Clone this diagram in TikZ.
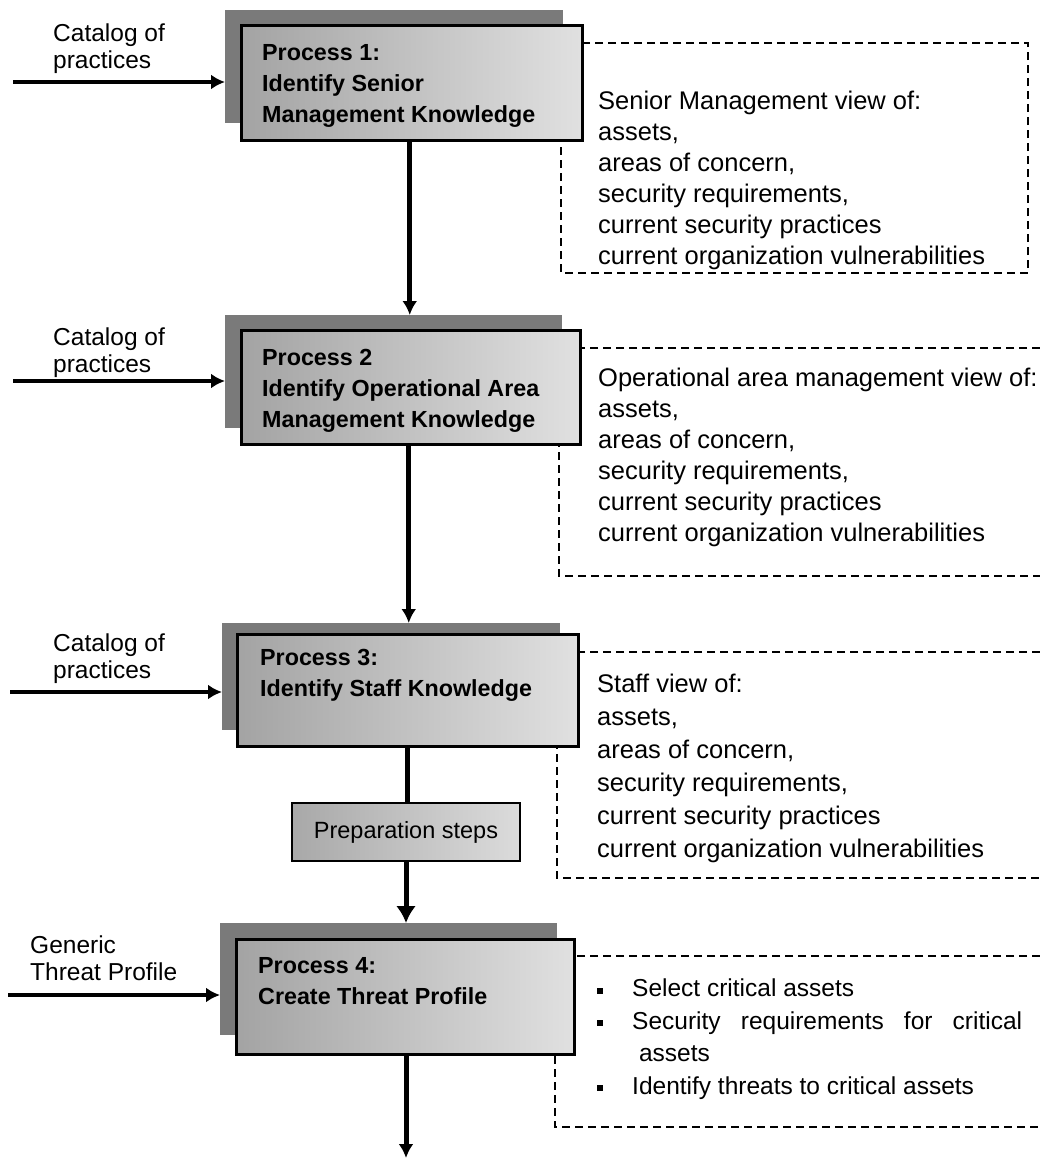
\documentclass[tikz,border=0pt]{standalone}
\usepackage{fontspec}
\setmainfont{Liberation Sans}
\usetikzlibrary{arrows.meta}
% small square bullet for the threat-profile list
\newcommand\sqb{\raisebox{3.4pt}{\rule{6pt}{6pt}}}
\begin{document}
\begin{tikzpicture}[x=1pt,y=-1pt,
  shadowbox/.style={fill=black!52, draw=none, inner sep=0pt, anchor=north west},
  procbox/.style={draw=black, line width=2.5pt, left color=black!36, right color=black!12,
    inner sep=0pt, anchor=north west},
  prepbox/.style={draw=black, line width=2pt, left color=black!34, right color=black!14,
    inner sep=0pt, font=\fontsize{23.5}{28}\selectfont},
  ptext/.style={anchor=north west, inner sep=0pt, align=left,
    font=\fontsize{23.3}{31}\selectfont\bfseries},
  body/.style={anchor=north west, inner sep=0pt, align=left,
    font=\fontsize{25.5}{31}\selectfont},
  inlabel/.style={anchor=north west, inner sep=0pt, align=left,
    font=\fontsize{24.5}{26.5}\selectfont},
  flow/.style={line width=5pt, -{Latex[length=14pt,width=15pt]}},
  bigflow/.style={line width=5pt, -{Latex[length=17pt,width=20pt]}},
  plain/.style={line width=5pt},
  feed/.style={line width=4.5pt, -{Latex[length=14pt,width=15pt]}},
  dashbox/.style={line width=2pt, dash pattern=on 8pt off 5pt}
]
\useasboundingbox (0,0) rectangle (1040,1160);

% ---------- dashed output frames (drawn first, boxes cover their corners)
\draw[dashbox] (561,43) rectangle (1028,273);
\draw[dashbox] (1040,348) -- (559,348) -- (559,576) -- (1040,576);
\draw[dashbox] (1040,652) -- (557,652) -- (557,878) -- (1040,878);
\draw[dashbox] (1040,956) -- (555,956) -- (555,1127) -- (1040,1127);

% ---------- process 1
\node[shadowbox, minimum width=338pt, minimum height=113pt] (s1) at (225,10) {};
\node[procbox, minimum width=341pt, minimum height=115pt] (p1) at (240,24) {};
\node[ptext] (t1) at (262,44) {Process 1:\\Identify Senior\\Management Knowledge};

% ---------- process 2
\node[shadowbox, minimum width=337pt, minimum height=113pt] (s2) at (225,315) {};
\node[procbox, minimum width=339pt, minimum height=114pt] (p2) at (240,329) {};
\node[ptext] (t2) at (262,349) {Process 2\\Identify Operational Area\\Management Knowledge};

% ---------- process 3
\node[shadowbox, minimum width=338pt, minimum height=107pt] (s3) at (222,623) {};
\node[procbox, minimum width=341pt, minimum height=112pt] (p3) at (236,633) {};
\node[ptext] (t3) at (260,649) {Process 3:\\Identify Staff Knowledge};

% ---------- preparation steps
\node[prepbox, minimum width=228pt, minimum height=58pt] (prep) at (406,832) {Preparation steps};

% ---------- process 4
\node[shadowbox, minimum width=337pt, minimum height=112pt] (s4) at (220,923) {};
\node[procbox, minimum width=338pt, minimum height=115pt] (p4) at (235,938) {};
\node[ptext] (t4) at (258,957) {Process 4:\\Create Threat Profile};

% ---------- output texts
\node[body] (o1) at (598,91) {Senior Management view of:\\assets,\\areas of concern,\\security requirements,\\current security practices\\current organization vulnerabilities};
\node[body] (o2) at (598,368) {Operational area management view of:\\assets,\\areas of concern,\\security requirements,\\current security practices\\current organization vulnerabilities};
\node[body, font=\fontsize{25.5}{33}\selectfont] (o3) at (597,674) {Staff view of:\\assets,\\areas of concern,\\security requirements,\\current security practices\\current organization vulnerabilities};
\node[body, font=\fontsize{24.5}{32.5}\selectfont] (o4) at (597,974) {%
  \begin{tabular}{@{}p{35pt}@{}l@{}}
  \sqb & Select critical assets\\
  \sqb & \makebox[390pt][s]{Security requirements for critical}\\
       & \ assets\\
  \sqb & Identify threats to critical assets
  \end{tabular}};

% ---------- inputs on the left
\node[inlabel] (l1) at (53,24) {Catalog of\\practices};
\node[inlabel] (l2) at (53,328) {Catalog of\\practices};
\node[inlabel] (l3) at (53,634) {Catalog of\\practices};
\node[inlabel] (l4) at (30,936) {Generic\\Threat Profile};

\coordinate (in1) at (13,82);
\coordinate (in2) at (13,381);
\coordinate (in3) at (10,692);
\coordinate (in4) at (8,995);
\draw[feed] (in1) -- (in1 -| s1.west);
\draw[feed] (in2) -- (in2 -| s2.west);
\draw[feed] (in3) -- (in3 -| s3.west);
\draw[feed] (in4) -- (in4 -| s4.west);

% ---------- main flow
\coordinate (out) at (406,1158);
\draw[flow] ([xshift=-2pt]p1.south) -- ([xshift=-2pt]p1.south |- s2.north);
\draw[flow] ([xshift=-2pt]p2.south) -- ([xshift=-2pt]p2.south |- s3.north);
\draw[plain] (p3.south) -- (p3.south |- prep.north);
\draw[bigflow] (prep.south) -- (prep.south |- s4.north);
\draw[flow] (p4.south -| out) -- (out);
\end{tikzpicture}
\end{document}
